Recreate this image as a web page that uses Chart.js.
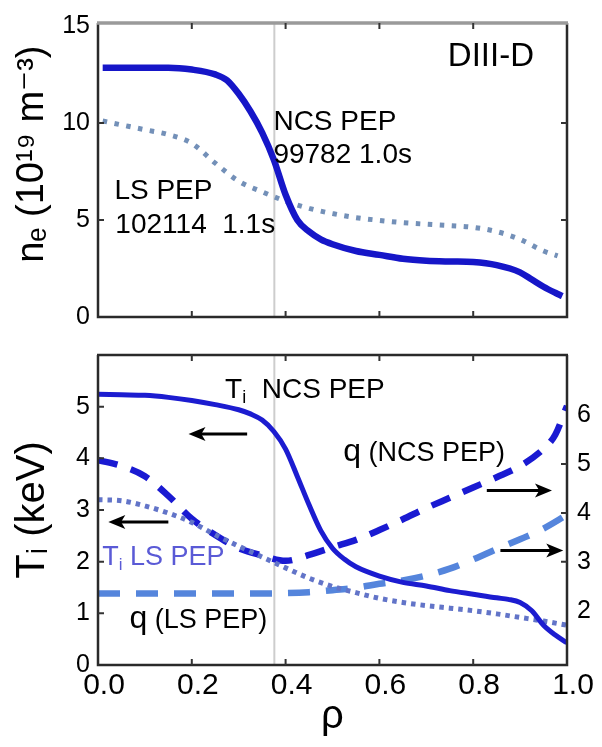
<!DOCTYPE html>
<html><head><meta charset="utf-8">
<script src="https://cdn.jsdelivr.net/npm/chart.js@4.4.1/dist/chart.umd.min.js"></script>
<style>
html,body{margin:0;padding:0;background:#fff;overflow:hidden;}
#wrap{position:relative;width:602px;height:747px;background:#fff;}
.pane{position:absolute;left:0;width:602px;}
</style></head><body>
<div id="wrap">
<div class="pane" style="top:0;height:340px"><canvas id="c1" width="602" height="340"></canvas></div>
<div class="pane" style="top:330px;height:417px"><canvas id="c2" width="602" height="417"></canvas></div>
</div>
<script>
// ---------------- data ----------------
// top panel: electron density n_e (10^19 m^-3) vs rho
const rhoNeNCS = [0.01,0.05,0.10,0.15,0.20,0.25,0.275,0.30,0.325,0.35,0.375,0.40,0.425,0.45,0.475,0.50,0.55,0.60,0.65,0.70,0.75,0.80,0.85,0.90,0.925,0.95,0.975,0.99];
const neNCS    = [12.85,12.85,12.85,12.85,12.75,12.5,12.2,11.5,10.6,9.5,8.1,6.3,5.0,4.4,4.0,3.75,3.4,3.2,3.0,2.9,2.86,2.83,2.67,2.3,1.93,1.56,1.25,1.08];
const rhoNeLS  = [0.01,0.05,0.10,0.15,0.20,0.25,0.30,0.35,0.40,0.45,0.50,0.55,0.60,0.65,0.70,0.75,0.80,0.85,0.90,0.95,0.98];
const neLS     = [10.1,9.9,9.65,9.4,8.95,7.93,7.0,6.45,5.97,5.6,5.33,5.12,4.98,4.86,4.78,4.71,4.62,4.40,4.0,3.4,3.15];
// bottom panel: ion temperature Ti (keV) and safety factor q vs rho
const rhoTiNCS = [0.0,0.05,0.10,0.15,0.20,0.25,0.30,0.325,0.35,0.375,0.40,0.425,0.45,0.475,0.50,0.525,0.55,0.60,0.65,0.70,0.75,0.80,0.85,0.875,0.90,0.925,0.95,0.975,1.0];
const tiNCS    = [5.24,5.23,5.22,5.18,5.12,5.04,4.94,4.86,4.74,4.52,4.18,3.65,3.1,2.6,2.26,2.05,1.90,1.72,1.60,1.53,1.44,1.37,1.30,1.27,1.21,1.05,0.77,0.58,0.43];
const rhoTiLS  = [0.0,0.05,0.10,0.15,0.20,0.25,0.30,0.35,0.40,0.45,0.50,0.55,0.60,0.65,0.70,0.75,0.80,0.85,0.90,0.95,1.0];
const tiLS     = [3.20,3.18,3.08,2.94,2.76,2.52,2.30,2.09,1.88,1.68,1.52,1.40,1.29,1.21,1.15,1.10,1.05,0.99,0.92,0.85,0.77];
const rhoQNCS  = [0.0,0.05,0.10,0.15,0.20,0.25,0.30,0.35,0.40,0.45,0.50,0.55,0.60,0.65,0.70,0.75,0.80,0.85,0.90,0.95,0.975,1.0];
const qNCS     = [5.08,4.96,4.75,4.35,3.88,3.55,3.28,3.13,3.02,3.14,3.30,3.45,3.65,3.87,4.10,4.31,4.52,4.73,4.96,5.31,5.6,6.19];
const rhoQLS   = [0.0,0.10,0.20,0.30,0.40,0.45,0.50,0.55,0.60,0.65,0.70,0.75,0.80,0.85,0.90,0.95,1.0];
const qLS      = [2.35,2.35,2.35,2.35,2.36,2.38,2.42,2.47,2.55,2.62,2.72,2.86,3.05,3.26,3.46,3.68,3.96];
// ticks
const rhoTicks = [0,0.2,0.4,0.6,0.8,1.0];
const neTicks  = [0,5,10,15];
const tiTicks  = [0,1,2,3,4,5];
const qTicks   = [2,3,4,5,6];
const markerRho = 0.376;

const FONT = "'Liberation Sans', Arial, 'DejaVu Sans', sans-serif";
const zip = (xs, ys) => xs.map((x, i) => ({x, y: ys[i]}));

function drawArrow(ctx, x1, y, x2) {
  const dir = Math.sign(x2 - x1), head = 17, hw = 7;
  ctx.save();
  ctx.strokeStyle = '#000'; ctx.fillStyle = '#000'; ctx.lineWidth = 3;
  ctx.beginPath(); ctx.moveTo(x1, y); ctx.lineTo(x2 - dir*head*0.7, y); ctx.stroke();
  ctx.beginPath(); ctx.moveTo(x2, y); ctx.lineTo(x2 - dir*head, y - hw);
  ctx.lineTo(x2 - dir*head*0.75, y); ctx.lineTo(x2 - dir*head, y + hw); ctx.closePath(); ctx.fill();
  ctx.restore();
}
function drawRich(ctx, x, y, segs, color) {
  ctx.save(); ctx.textBaseline = 'alphabetic'; ctx.textAlign = 'left'; ctx.fillStyle = color;
  let cx = x;
  for (const s of segs) {
    ctx.font = s.size + 'px ' + FONT;
    ctx.fillText(s.t, cx, y + (s.dy || 0));
    cx += ctx.measureText(s.t).width;
  }
  ctx.restore();
}

// frame, inward ticks, marker line, annotations
const framePlugin = {
  id: 'frame',
  beforeDatasetsDraw(chart) {
    const {ctx, chartArea: a, scales} = chart;
    const x = scales.x.getPixelForValue(markerRho);
    ctx.save(); ctx.strokeStyle = '#cdcdcd'; ctx.lineWidth = 2;
    ctx.beginPath(); ctx.moveTo(x, a.top); ctx.lineTo(x, a.bottom); ctx.stroke(); ctx.restore();
  },
  afterDatasetsDraw(chart, args, opts) {
    const {ctx, chartArea: a, scales} = chart;
    const L = 6;
    ctx.save();
    ctx.strokeStyle = '#2a2a2a'; ctx.lineWidth = 2.5;
    ctx.beginPath();
    ctx.moveTo(a.left, a.top); ctx.lineTo(a.left, a.bottom); ctx.lineTo(a.right, a.bottom); ctx.lineTo(a.right, a.top);
    ctx.stroke();
    ctx.strokeStyle = opts.topColor; ctx.lineWidth = opts.topWidth;
    ctx.beginPath(); ctx.moveTo(a.left - 1, a.top); ctx.lineTo(a.right + 1, a.top); ctx.stroke();
    ctx.strokeStyle = '#333'; ctx.lineWidth = 2;
    ctx.beginPath();
    rhoTicks.slice(1, -1).forEach(v => {
      const px = scales.x.getPixelForValue(v);
      ctx.moveTo(px, a.bottom); ctx.lineTo(px, a.bottom - L);
      ctx.moveTo(px, a.top); ctx.lineTo(px, a.top + L);
    });
    (opts.leftTicks || []).forEach(v => {
      const py = scales[opts.leftScale].getPixelForValue(v);
      ctx.moveTo(a.left, py); ctx.lineTo(a.left + L, py);
      if (opts.mirror) { ctx.moveTo(a.right, py); ctx.lineTo(a.right - L, py); }
    });
    (opts.rightTicks || []).forEach(v => {
      const py = scales[opts.rightScale].getPixelForValue(v);
      ctx.moveTo(a.right, py); ctx.lineTo(a.right - L, py);
    });
    ctx.stroke();
    ctx.restore();
    (opts.texts || []).forEach(t => {
      const px = scales.x.getPixelForValue(t.x);
      const py = scales[t.scale].getPixelForValue(t.y);
      drawRich(ctx, px, py, t.segs, t.color || '#000');
    });
    (opts.arrows || []).forEach(r => {
      const py = scales[r.scale].getPixelForValue(r.y);
      drawArrow(ctx, scales.x.getPixelForValue(r.from), py, scales.x.getPixelForValue(r.to));
    });
  }
};

const common = {
  responsive: false, animation: false, devicePixelRatio: 1,
  elements: { point: { radius: 0 }, line: { fill: false, cubicInterpolationMode: 'monotone', borderCapStyle: 'butt' } },
};

// ---------------- top chart ----------------
new Chart(document.getElementById('c1'), {
  type: 'line',
  data: { datasets: [
    { label: 'NCS PEP 99782 1.0s', data: zip(rhoNeNCS, neNCS), borderColor: '#1616c8', borderWidth: 6.5 },
    { label: 'LS PEP 102114 1.1s', data: zip(rhoNeLS, neLS), borderColor: '#7390b8', borderWidth: 5, borderDash: [4.5, 7.5] },
  ]},
  options: Object.assign({}, common, {
    layout: { padding: { top: 8, right: 35, left: 0, bottom: 0 } },
    plugins: {
      legend: { display: false }, tooltip: { enabled: false },
      frame: {
        topColor: '#9a9a9a', topWidth: 3.5, leftScale: 'y', leftTicks: [5, 10], mirror: true,
        texts: [
          { x: 0.746, y: 12.94, scale: 'y', segs: [{ t: 'DIII-D', size: 33 }] },
          { x: 0.374, y: 9.62, scale: 'y', segs: [{ t: 'NCS PEP', size: 28 }] },
          { x: 0.374, y: 7.96, scale: 'y', segs: [{ t: '99782 1.0s', size: 28 }] },
          { x: 0.035, y: 6.07, scale: 'y', segs: [{ t: 'LS PEP', size: 28 }] },
          { x: 0.037, y: 4.31, scale: 'y', segs: [{ t: '102114  1.1s', size: 28 }] },
        ]
      }
    },
    scales: {
      x: { type: 'linear', min: 0, max: 1,
        afterFit: s => { s.height = 12; },
        ticks: { display: false }, grid: { display: false, drawTicks: false }, border: { display: false } },
      y: { type: 'linear', min: 0, max: 15.15,
        afterFit: s => { s.width = 98; },
        afterBuildTicks: s => { s.ticks = neTicks.map(v => ({ value: v })); },
        grid: { display: false, drawTicks: false }, border: { display: false },
        ticks: { font: { size: 25, family: FONT }, color: '#000', padding: 8 },
        title: { display: true, text: '   nₑ (10¹⁹ m⁻³)', color: '#000', font: { size: 38, family: FONT }, padding: { top: 10, bottom: 0 } } }
    }
  }),
  plugins: [framePlugin]
});

// ---------------- bottom chart ----------------
new Chart(document.getElementById('c2'), {
  type: 'line',
  data: { datasets: [
    { label: 'Ti NCS PEP', data: zip(rhoTiNCS, tiNCS), yAxisID: 'y', borderColor: '#1c1cd0', borderWidth: 5 },
    { label: 'Ti LS PEP', data: zip(rhoTiLS, tiLS), yAxisID: 'y', borderColor: '#6274c8', borderWidth: 5, borderDash: [4.5, 5] },
    { label: 'q (NCS PEP)', data: zip(rhoQNCS, qNCS), yAxisID: 'q', borderColor: '#1a1ad2', borderWidth: 6.5, borderDash: [20, 14] },
    { label: 'q (LS PEP)', data: zip(rhoQLS, qLS), yAxisID: 'q', borderColor: '#5585dc', borderWidth: 6.5, borderDash: [22, 16] },
  ]},
  options: Object.assign({}, common, {
    layout: { padding: { top: 10, right: 0, left: 0, bottom: 0 } },
    plugins: {
      legend: { display: false }, tooltip: { enabled: false },
      frame: {
        topColor: '#2a2a2a', topWidth: 2.5, leftScale: 'y', leftTicks: [1, 2, 3, 4, 5], rightScale: 'q', rightTicks: [3, 4, 5],
        texts: [
          { x: 0.271, y: 5.17, scale: 'y', segs: [{ t: 'T', size: 28 }, { t: 'i', size: 18, dy: 5 }, { t: '  NCS PEP', size: 28 }] },
          { x: 0.523, y: 3.95, scale: 'y', segs: [{ t: 'q', size: 32 }, { t: ' (NCS PEP)', size: 27 }] },
          { x: 0.009, y: 1.94, scale: 'y', color: '#5a5ad6', segs: [{ t: 'T', size: 27 }, { t: 'i', size: 17, dy: 5 }, { t: ' LS PEP', size: 27 }] },
          { x: 0.067, y: 0.72, scale: 'y', segs: [{ t: 'q', size: 32 }, { t: ' (LS PEP)', size: 27 }] },
        ],
        arrows: [
          { from: 0.318, to: 0.193, y: 4.47, scale: 'y' },
          { from: 0.150, to: 0.022, y: 2.77, scale: 'y' },
          { from: 0.829, to: 0.968, y: 4.46, scale: 'q' },
          { from: 0.858, to: 0.992, y: 3.23, scale: 'q' },
        ]
      }
    },
    scales: {
      x: { type: 'linear', min: 0, max: 1,
        afterFit: s => { s.height = 82; },
        afterBuildTicks: s => { s.ticks = rhoTicks.map(v => ({ value: v })); },
        grid: { display: false, drawTicks: false }, border: { display: false },
        ticks: { font: { size: 30, family: FONT }, color: '#000', padding: 3, labelOffset: 6, maxRotation: 0,
                 callback: v => Number(v).toFixed(1) },
        title: { display: true, text: 'ρ', color: '#000', font: { size: 40, family: FONT }, padding: { top: 0, bottom: 6 } } },
      y: { type: 'linear', position: 'left', min: 0, max: 6,
        afterFit: s => { s.width = 98; },
        afterBuildTicks: s => { s.ticks = tiTicks.map(v => ({ value: v })); },
        grid: { display: false, drawTicks: false }, border: { display: false },
        ticks: { font: { size: 25, family: FONT }, color: '#000', padding: 8 },
        title: { display: true, text: 'Tᵢ (keV)', color: '#000', font: { size: 40, family: FONT }, padding: { top: 9, bottom: 0 } } },
      q: { type: 'linear', position: 'right', min: 0.89, max: 7.23,
        afterFit: s => { s.width = 35; },
        afterBuildTicks: s => { s.ticks = qTicks.map(v => ({ value: v })); },
        grid: { display: false, drawTicks: false }, border: { display: false },
        ticks: { font: { size: 25, family: FONT }, color: '#000', padding: 10 } }
    }
  }),
  plugins: [framePlugin]
});
</script>
</body></html>
